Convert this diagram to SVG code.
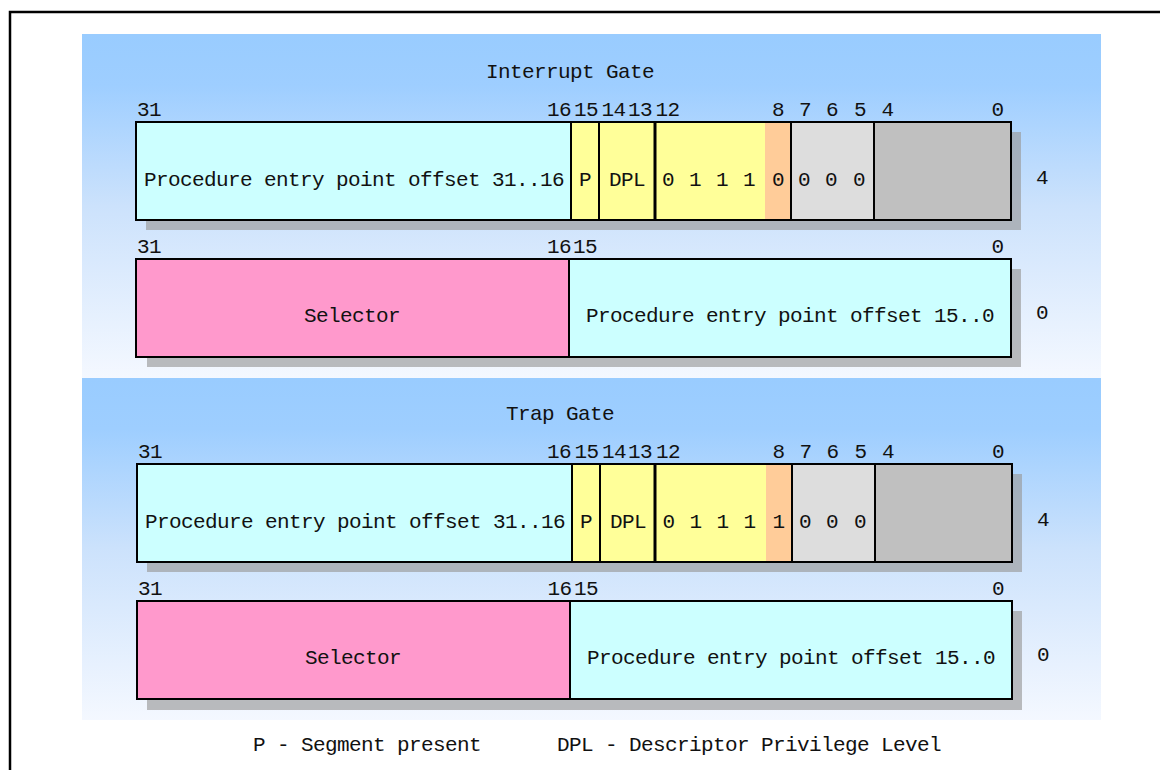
<svg xmlns="http://www.w3.org/2000/svg" width="1160" height="770" viewBox="0 0 1160 770">
<defs>
<linearGradient id="panelGrad" x1="0" y1="0" x2="0" y2="1">
<stop offset="0" stop-color="#99CCFF"/>
<stop offset="0.15" stop-color="#9ECEFF"/>
<stop offset="0.5" stop-color="#CCE2FC"/>
<stop offset="1" stop-color="#F4F8FF"/>
</linearGradient>
<style>
text{font-family:"Liberation Mono","DejaVu Sans Mono",monospace;font-size:21px;letter-spacing:-0.6px;fill:#111}
.m{text-anchor:middle}
.sh{fill:#999;fill-opacity:0.65}
.box{fill:none;stroke:#000;stroke-width:2}
.div{stroke:#000;stroke-width:2}
.cy{fill:#CCFFFF}.pk{fill:#FF99CC}.ye{fill:#FFFF99}.or{fill:#FFCC99}.lg{fill:#DDDDDD}.dg{fill:#C0C0C0}
</style>
</defs>
<rect width="1160" height="770" fill="#fff"/>
<path d="M10,772 V12 H1162" fill="none" stroke="#000" stroke-width="2.5"/>

<g id="interrupt-gate">
<rect x="82" y="34" width="1019" height="344" fill="url(#panelGrad)"/>
<text class="m" x="570" y="78">Interrupt Gate</text>
<g id="ig-word4">
<text class="m" x="149" y="116">31</text>
<text class="m" x="559" y="116">16</text>
<text class="m" x="586" y="116">15</text>
<text class="m" x="613.5" y="116">14</text>
<text class="m" x="640" y="116">13</text>
<text class="m" x="667.5" y="116">12</text>
<text class="m" x="778" y="116">8</text>
<text class="m" x="805" y="116">7</text>
<text class="m" x="832" y="116">6</text>
<text class="m" x="860" y="116">5</text>
<text class="m" x="887.5" y="116">4</text>
<text class="m" x="997.5" y="116">0</text>
<rect class="sh" x="146" y="132" width="875" height="98"/>
<rect class="cy" x="136" y="122" width="435" height="98"/>
<rect class="ye" x="571" y="122" width="84" height="98"/>
<rect class="ye" x="655" y="122" width="110" height="98"/>
<rect class="or" x="765" y="122" width="26" height="98"/>
<rect class="lg" x="791" y="122" width="83" height="98"/>
<rect class="dg" x="874" y="122" width="137" height="98"/>
<path class="div" d="M571,122V220M599,122V220M791,122V220M874,122V220"/>
<path d="M655,122V220" stroke="#000" stroke-width="3"/>
<rect class="box" x="136" y="122" width="875" height="98"/>
<text class="m" x="354" y="186">Procedure entry point offset 31..16</text>
<text class="m" x="585" y="186">P</text>
<text class="m" x="627" y="186">DPL</text>
<text class="m" x="668" y="186">0</text>
<text class="m" x="695" y="186">1</text>
<text class="m" x="722" y="186">1</text>
<text class="m" x="749" y="186">1</text>
<text class="m" x="778" y="186">0</text>
<text class="m" x="804" y="186">0</text>
<text class="m" x="831" y="186">0</text>
<text class="m" x="859" y="186">0</text>
<text class="m" x="1042" y="184">4</text>
</g>
<g id="ig-word0">
<text class="m" x="149" y="253">31</text>
<text class="m" x="559" y="253">16</text>
<text class="m" x="585" y="253">15</text>
<text class="m" x="997.5" y="253">0</text>
<rect class="sh" x="147" y="269" width="874" height="98"/>
<rect class="pk" x="136" y="259" width="433" height="98"/>
<rect class="cy" x="569" y="259" width="442" height="98"/>
<path class="div" d="M569,259V357"/>
<rect class="box" x="136" y="259" width="875" height="98"/>
<text class="m" x="352" y="322">Selector</text>
<text class="m" x="790" y="322">Procedure entry point offset 15..0</text>
<text class="m" x="1042" y="319">0</text>
</g>
</g>

<g id="trap-gate">
<rect x="82" y="378" width="1019" height="342" fill="url(#panelGrad)"/>
<text class="m" x="560" y="420">Trap Gate</text>
<g id="tg-word4">
<text class="m" x="150" y="458">31</text>
<text class="m" x="559" y="458">16</text>
<text class="m" x="586.5" y="458">15</text>
<text class="m" x="614" y="458">14</text>
<text class="m" x="640" y="458">13</text>
<text class="m" x="668" y="458">12</text>
<text class="m" x="778.5" y="458">8</text>
<text class="m" x="805.5" y="458">7</text>
<text class="m" x="832.5" y="458">6</text>
<text class="m" x="860.5" y="458">5</text>
<text class="m" x="888" y="458">4</text>
<text class="m" x="998" y="458">0</text>
<rect class="sh" x="147" y="474" width="875" height="98"/>
<rect class="cy" x="137" y="464" width="435" height="98"/>
<rect class="ye" x="572" y="464" width="83" height="98"/>
<rect class="ye" x="655" y="464" width="111" height="98"/>
<rect class="or" x="766" y="464" width="26" height="98"/>
<rect class="lg" x="792" y="464" width="83" height="98"/>
<rect class="dg" x="875" y="464" width="137" height="98"/>
<path class="div" d="M572,464V562M600,464V562M792,464V562M875,464V562"/>
<path d="M655,464V562" stroke="#000" stroke-width="3"/>
<rect class="box" x="137" y="464" width="875" height="98"/>
<text class="m" x="355" y="528">Procedure entry point offset 31..16</text>
<text class="m" x="586" y="528">P</text>
<text class="m" x="628" y="528">DPL</text>
<text class="m" x="668.5" y="528">0</text>
<text class="m" x="695.5" y="528">1</text>
<text class="m" x="722.5" y="528">1</text>
<text class="m" x="749.5" y="528">1</text>
<text class="m" x="778.5" y="528">1</text>
<text class="m" x="805" y="528">0</text>
<text class="m" x="832" y="528">0</text>
<text class="m" x="860" y="528">0</text>
<text class="m" x="1043" y="526">4</text>
</g>
<g id="tg-word0">
<text class="m" x="150" y="595">31</text>
<text class="m" x="559.5" y="595">16</text>
<text class="m" x="586" y="595">15</text>
<text class="m" x="998" y="595">0</text>
<rect class="sh" x="147" y="611" width="875" height="99"/>
<rect class="pk" x="137" y="601" width="433" height="98"/>
<rect class="cy" x="570" y="601" width="442" height="98"/>
<path class="div" d="M570,601V699"/>
<rect class="box" x="137" y="601" width="875" height="98"/>
<text class="m" x="353" y="664">Selector</text>
<text class="m" x="791" y="664">Procedure entry point offset 15..0</text>
<text class="m" x="1043" y="661">0</text>
</g>
</g>

<g id="legend">
<text class="m" x="367" y="751">P - Segment present</text>
<text class="m" x="749" y="751">DPL - Descriptor Privilege Level</text>
</g>
<g id="connectors"/>
</svg>
